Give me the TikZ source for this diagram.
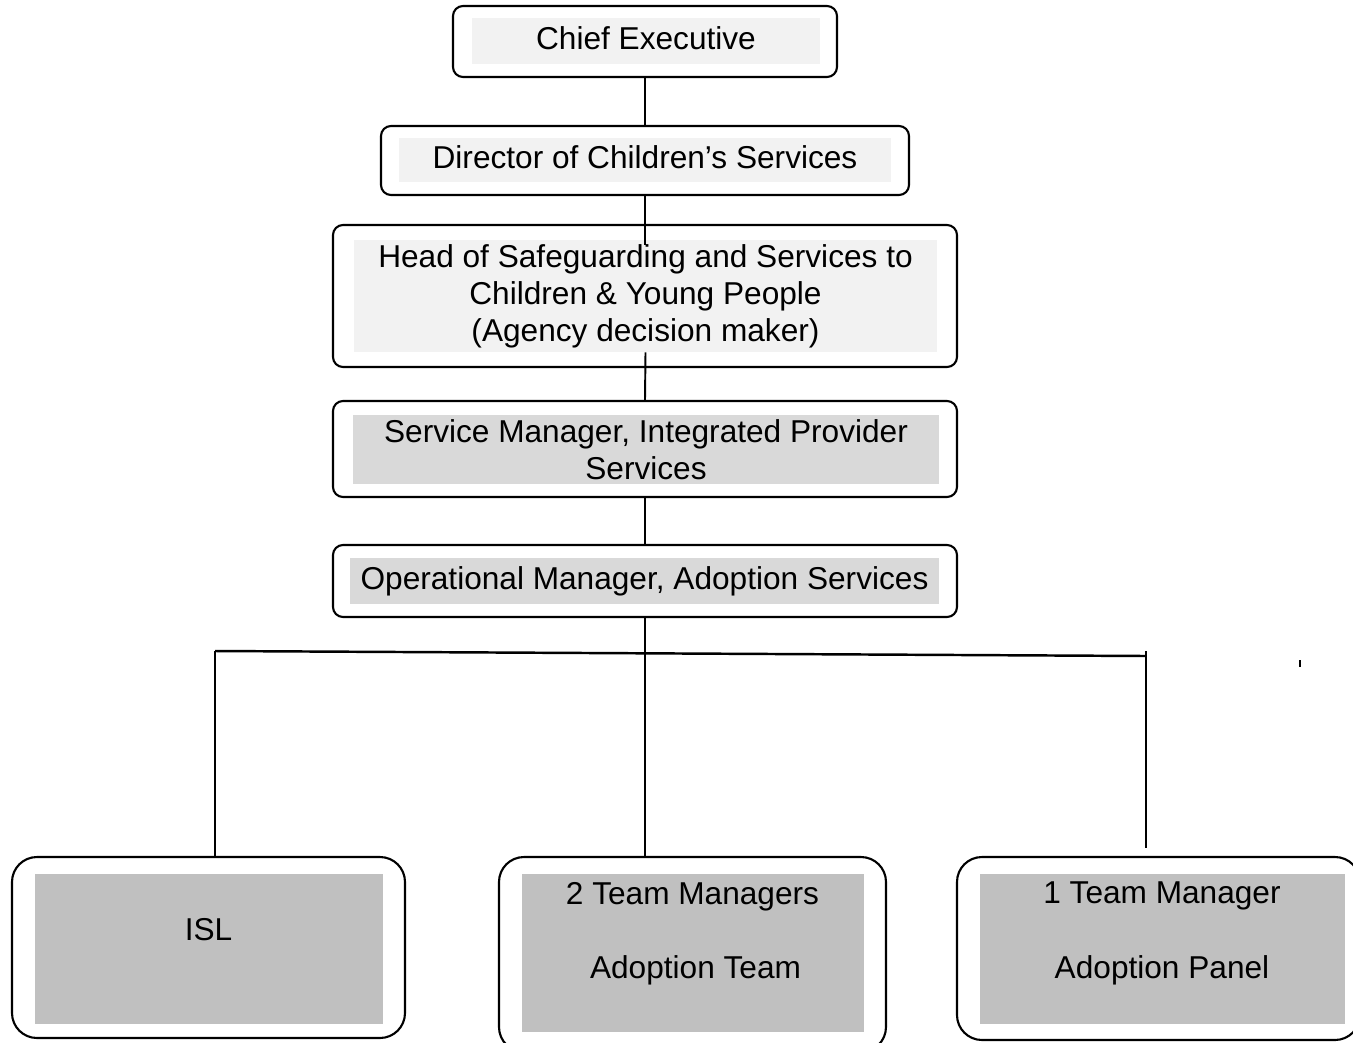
\documentclass[tikz,border=0pt]{standalone}
\usepackage{fontspec}
\setmainfont{Liberation Sans}
\usetikzlibrary{positioning}

\definecolor{paleGrey}{HTML}{F2F2F2}
\definecolor{midGrey}{HTML}{D9D9D9}
\definecolor{darkGrey}{HTML}{C0C0C0}

\begin{document}
\begin{tikzpicture}[x=0.02cm,y=-0.02cm,
  every node/.style={font=\fontsize{18}{21}\selectfont},
  boxframe/.style 2 args={draw, line width=1.2pt, rounded corners=0.2cm, inner sep=0pt,
    minimum width=#1*0.02cm, minimum height=#2*0.02cm},
  bigframe/.style 2 args={boxframe={#1}{#2}, rounded corners=0.5cm},
  boxfill/.style n args={3}{fill=#3, inner sep=0pt, align=center,
    minimum width=#1*0.02cm, minimum height=#2*0.02cm},
  boxtext/.style={anchor=base, inner sep=0pt},
  link/.style={line width=1.1pt}]

  \useasboundingbox (0,0) rectangle (1353,1042);

  % Frames
  \node[boxframe={384}{71}] (ceo frame) at (645,41.5) {};
  \node[boxframe={528}{69}] (dir frame) at (645,160.5) {};
  \node[boxframe={624}{142}] (head frame) at (645,296) {};
  \node[boxframe={624}{96}] (svc frame) at (645,449) {};
  \node[boxframe={624}{72}] (op frame) at (645,581) {};
  \node[bigframe={393}{181}] (isl frame) at (208.5,947.5) {};
  \node[bigframe={387}{195}] (team frame) at (692.5,954.5) {};
  \node[bigframe={403}{183}] (panel frame) at (1158.5,948.5) {};

  % Nodes
  \node[boxfill={348}{46}{paleGrey}, text depth=0.3em] (ceo) at (646,41) {Chief Executive};
  \node[boxfill={492}{44}{paleGrey}, text depth=0.3em] (dir) at (645,160) {Director of Children’s Services};
  \node[boxfill={583}{112}{paleGrey}] (head) at (645.5,296)
    {Head of Safeguarding and Services to\\Children \& Young People\\(Agency decision maker)};
  \node[boxfill={586}{69}{midGrey}] (svc) at (646,449.5)
    {Service Manager, Integrated Provider\\Services};
  \node[boxfill={589}{46}{midGrey}] (op) at (644.5,581) {Operational Manager, Adoption Services};
  \node[boxfill={348}{150}{darkGrey}] (isl) at (209,949) {};
  \node[boxfill={342}{158}{darkGrey}] (team) at (693,953) {};
  \node[boxfill={365}{150}{darkGrey}] (panel) at (1162.5,949) {};

  \node[boxtext] (isl name) at (208.5,940) {ISL};
  \node[boxtext] (team head) at (692.5,904) {2 Team Managers};
  \node[boxtext] (team name) at (695.5,978) {Adoption Team};
  \node[boxtext] (panel head) at (1162,903) {1 Team Manager};
  \node[boxtext] (panel name) at (1162,978) {Adoption Panel};

  % Branch points
  \coordinate (head top) at (645,245);
  \coordinate (bar left) at (215,651);
  \coordinate (bar right) at (1146,656);
  \coordinate (bar right top) at (1146,651);
  \coordinate (panel drop) at (1146,848);
  \coordinate (stray top) at (1300,660);
  \coordinate (stray end) at (1300,667);

  % Connectors
  \draw[link] (ceo frame.south) -- (dir frame.north);
  \draw[link] (dir frame.south) -- (head top);
  \draw[link] (head.south) -- (svc frame.north);
  \draw[link] (svc frame.south) -- (op frame.north);
  \draw[link] (op frame.south) -- (op frame.south |- team frame.north);
  \draw[line width=1.4pt] (bar left) -- (bar right);
  \draw[link] (bar left) -- (bar left |- isl frame.north);
  \draw[link] (bar right top) -- (panel drop);
  \draw[link] (stray top) -- (stray end);

\end{tikzpicture}
\end{document}
